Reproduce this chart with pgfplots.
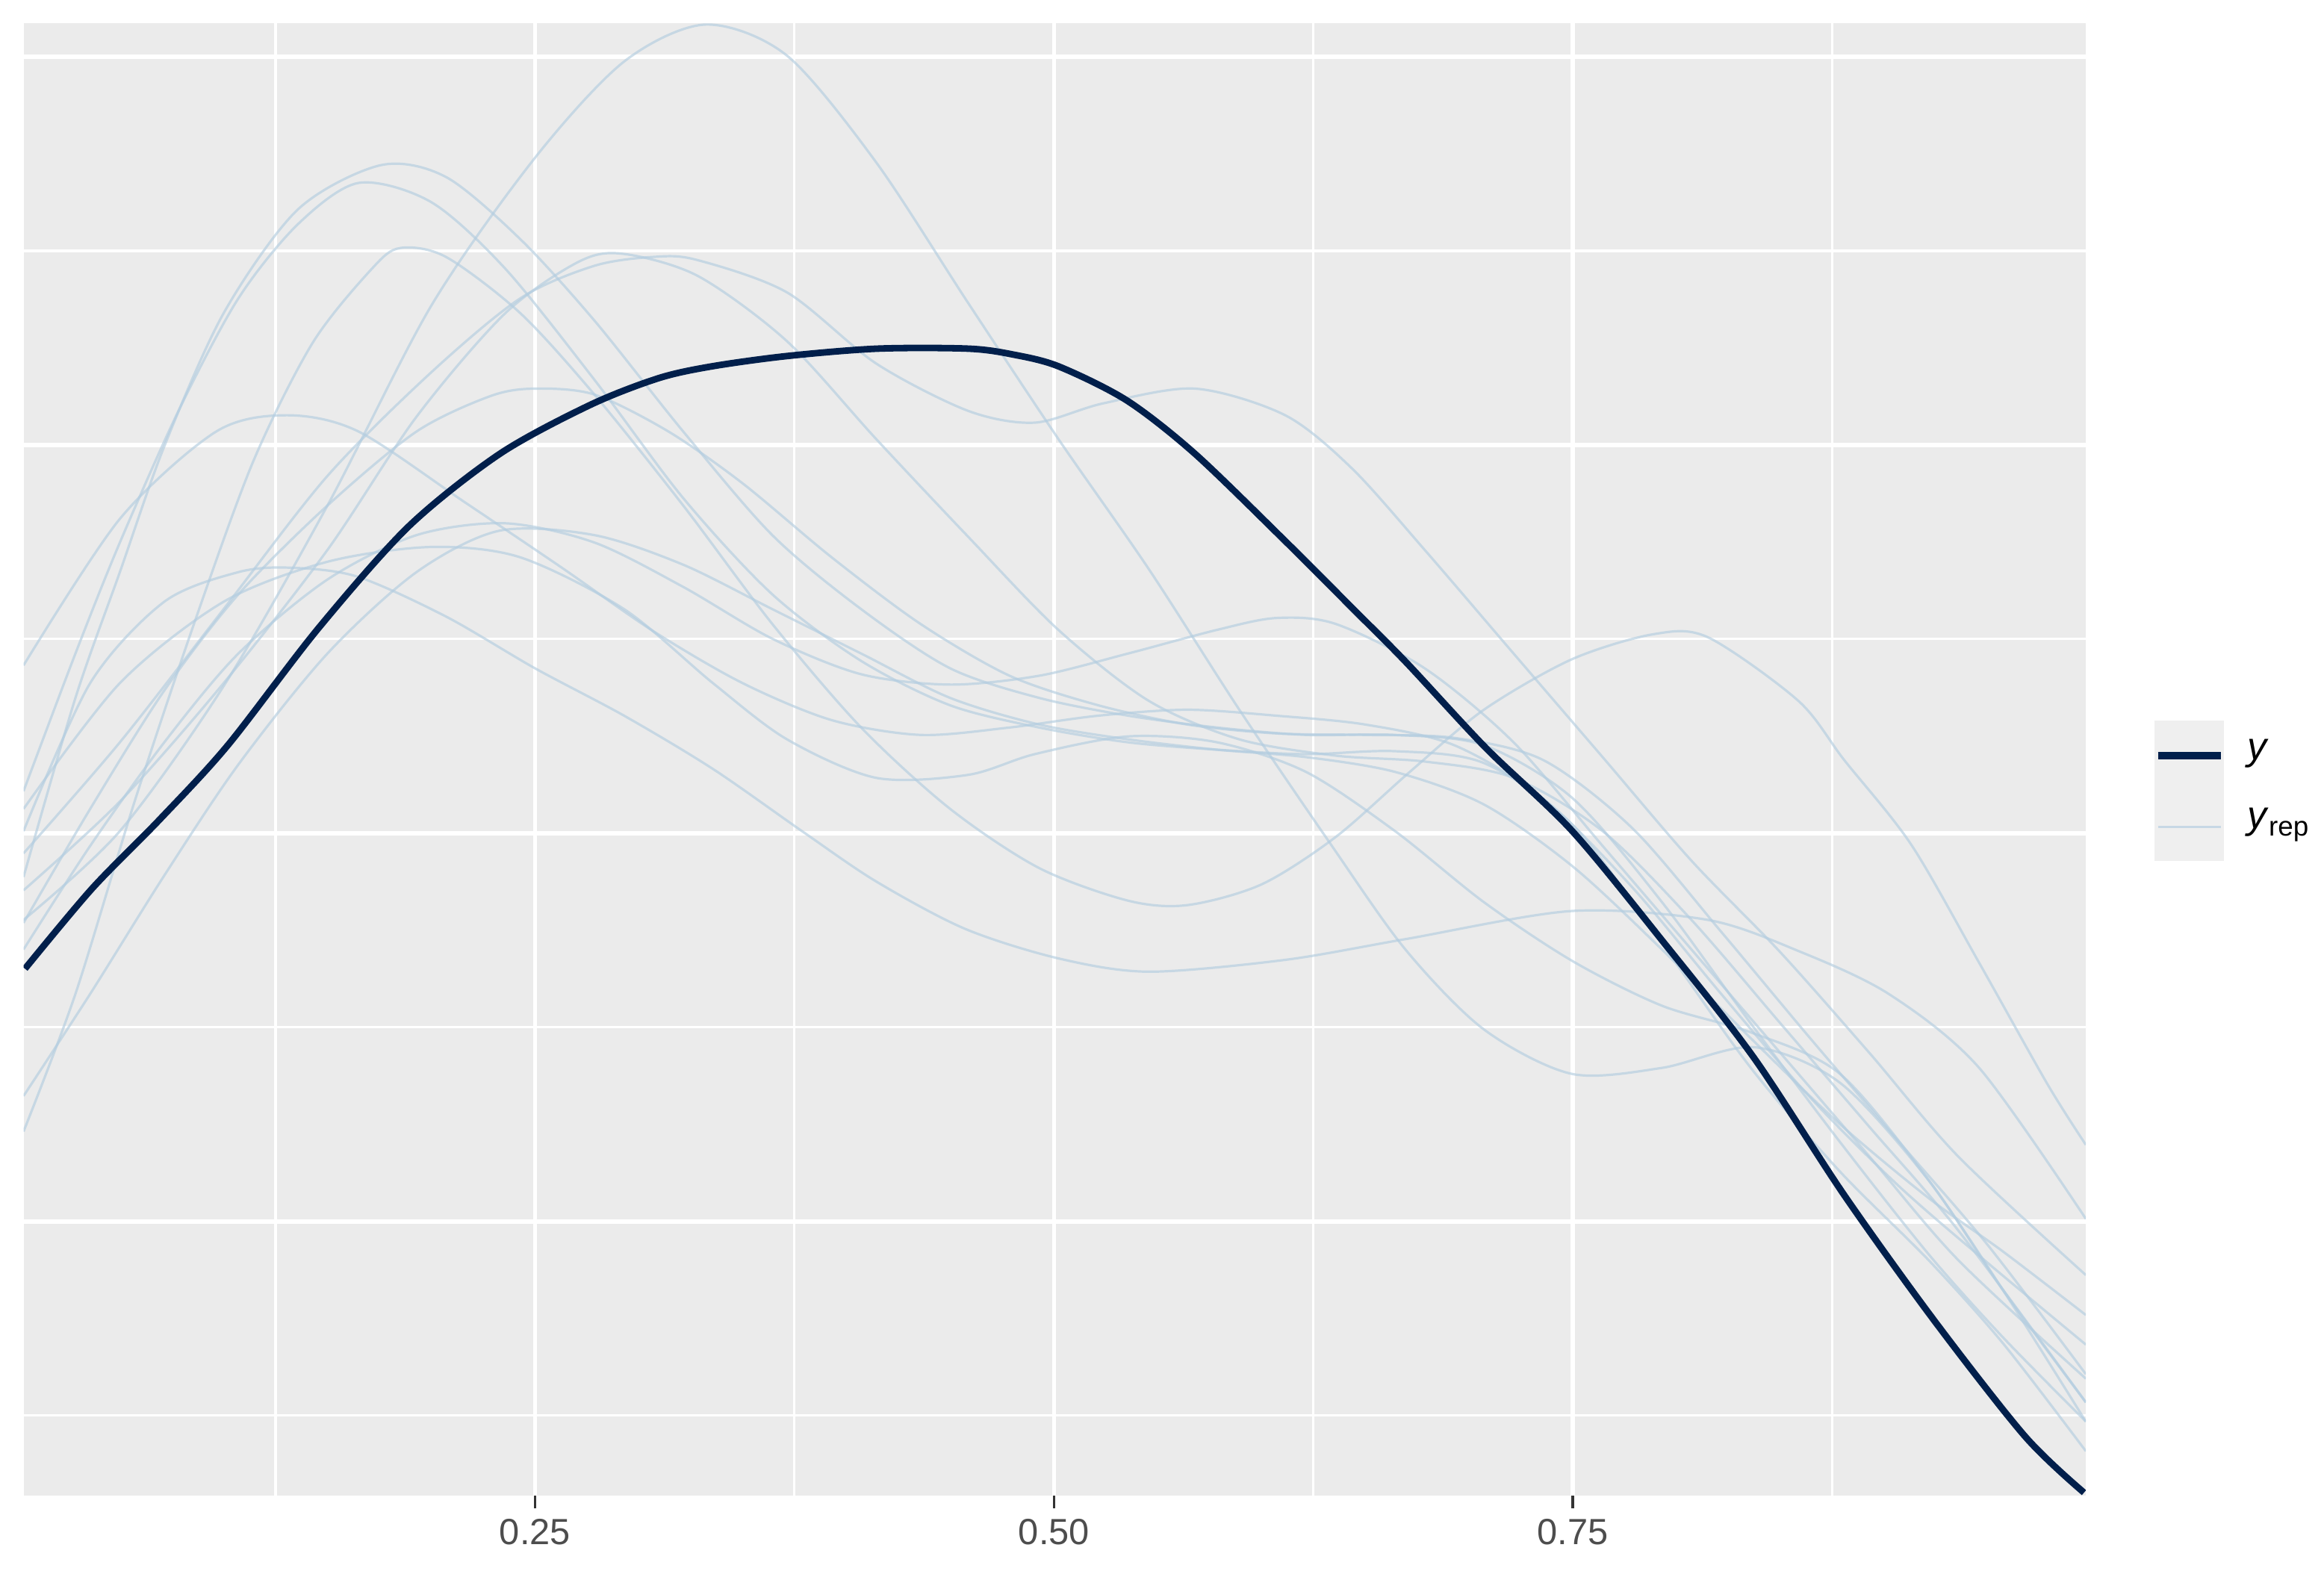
\documentclass[border=0pt]{standalone}
\usepackage{fontspec}
\setmainfont{Liberation Sans}
\usepackage{pgfplots}
\pgfplotsset{compat=1.18}
\definecolor{panel}{HTML}{EBEBEB}
\definecolor{ydark}{HTML}{011F4B}
\definecolor{yrepc}{HTML}{B3CDE0}
\definecolor{ticklab}{HTML}{4D4D4D}
\definecolor{tickc}{HTML}{333333}
\definecolor{keybg}{HTML}{EFEFEF}
\begin{document}
\begin{tikzpicture}
\path[use as bounding box] (0,0) rectangle (389pt,264pt);
\begin{axis}[
  at={(3.94pt,13.625pt)}, anchor=south west,
  scale only axis, width=345.2pt, height=246.5pt,
  xmin=0.0036, xmax=0.9971, ymin=77, ymax=1072,
  axis background/.style={fill=panel},
  axis line style={draw=none},
  xtick={0.25,0.5,0.75}, xticklabels={0.25,0.50,0.75},
  minor xtick={0.125,0.375,0.625,0.875},
  ytick={262.3,524.6,786.9,1049.2}, yticklabels={},
  minor ytick={131.2,393.5,655.8,918.1},
  grid=both,
  major grid style={white, line width=0.7pt},
  minor grid style={white, line width=0.4pt},
  xtick pos=left, tick align=outside,
  major tick length=2.1pt, minor tick length=0pt,
  y tick style={draw=none},
  x tick style={tickc, line width=0.45pt},
  minor tick style={draw=none},
  xticklabel style={font=\fontsize{6.1}{7}\selectfont, text=ticklab, inner sep=0pt, yshift=-1.6pt},
  clip=true,
  rep/.style={yrepc, opacity=0.65, line width=0.4pt, smooth, tension=0.5},
]
% y_rep draws
\addplot[rep] coordinates {(0.0036,466)(0.05,526)(0.1,624)(0.15,746)(0.2,881)(0.25,981)(0.2929,1046)(0.3321,1071)(0.3714,1050)(0.4143,978)(0.4586,883)(0.5021,791)(0.5457,703)(0.5893,608)(0.6329,518)(0.6693,446)(0.7071,392)(0.7493,362)(0.7929,366)(0.8371,380)(0.8786,356)(0.9214,290)(0.9571,216)(0.9971,140)};
\addplot[rep] coordinates {(0.0036,495)(0.0286,616)(0.05,701)(0.0714,786)(0.1,876)(0.1357,946)(0.1757,976)(0.2071,968)(0.2429,926)(0.2786,871)(0.3214,796)(0.3643,726)(0.4071,676)(0.45,636)(0.4929,616)(0.5357,604)(0.5786,596)(0.6214,591)(0.6643,591)(0.7071,584)(0.75,548)(0.7929,478)(0.8357,396)(0.8786,316)(0.9214,240)(0.9571,184)(0.9971,127)};
\addplot[rep] coordinates {(0.0036,553)(0.0286,646)(0.05,721)(0.0786,811)(0.1071,886)(0.1357,936)(0.165,964)(0.2,951)(0.2357,906)(0.2786,831)(0.3214,751)(0.3643,686)(0.4071,641)(0.45,611)(0.4929,596)(0.5357,586)(0.5786,581)(0.6214,578)(0.6643,580)(0.7071,572)(0.75,530)(0.7929,450)(0.8357,366)(0.8786,296)(0.9214,236)(0.9571,180)(0.9971,107)};
\addplot[rep] coordinates {(0.0036,323)(0.0286,416)(0.0571,546)(0.0857,666)(0.1143,776)(0.1429,856)(0.1714,906)(0.185,920)(0.2071,914)(0.2429,876)(0.2786,821)(0.3214,746)(0.3643,666)(0.4071,596)(0.45,541)(0.4929,501)(0.5357,479)(0.5643,476)(0.6,490)(0.6357,522)(0.6714,566)(0.7071,608)(0.7493,642)(0.7886,659)(0.815,657)(0.8586,614)(0.8807,574)(0.9129,517)(0.9457,437)(0.9786,355)(0.9971,314)};
\addplot[rep] coordinates {(0.0036,638)(0.05,737)(0.0964,796)(0.1307,807)(0.165,796)(0.2164,748)(0.2629,704)(0.3071,661)(0.35,626)(0.3929,601)(0.4357,591)(0.4786,596)(0.5214,604)(0.5643,608)(0.6071,604)(0.65,598)(0.6929,584)(0.7357,548)(0.7786,488)(0.8214,416)(0.8643,346)(0.9071,286)(0.95,234)(0.9971,179)};
\addplot[rep] coordinates {(0.0036,464)(0.0357,541)(0.0714,621)(0.1071,686)(0.15,746)(0.1929,796)(0.2286,820)(0.25,825)(0.2786,821)(0.3143,796)(0.35,761)(0.3929,711)(0.4357,666)(0.4786,631)(0.5214,611)(0.5643,598)(0.6071,592)(0.65,591)(0.6929,589)(0.7357,574)(0.7786,528)(0.8214,458)(0.8643,386)(0.9071,316)(0.95,246)(0.9971,159)};
\addplot[rep] coordinates {(0.0036,347)(0.0357,416)(0.0714,496)(0.1071,571)(0.15,646)(0.1929,701)(0.2329,729)(0.2786,726)(0.3214,706)(0.3643,676)(0.4071,646)(0.45,616)(0.4929,598)(0.5357,588)(0.5786,581)(0.6214,576)(0.6643,566)(0.7071,544)(0.75,502)(0.7929,446)(0.8357,386)(0.8786,328)(0.9214,278)(0.9571,242)(0.9971,199)};
\addplot[rep] coordinates {(0.0036,526)(0.0357,626)(0.0714,681)(0.1071,701)(0.1321,704)(0.1643,698)(0.2071,671)(0.25,636)(0.2929,604)(0.3357,568)(0.3786,526)(0.4143,492)(0.4571,460)(0.5021,440)(0.5457,431)(0.6114,439)(0.6693,453)(0.7493,472)(0.815,466)(0.8586,445)(0.9021,416)(0.9457,366)(0.9971,264)};
\addplot[rep] coordinates {(0.0036,486)(0.05,546)(0.1,626)(0.15,716)(0.1929,806)(0.2357,876)(0.2714,911)(0.2929,916)(0.3286,901)(0.3714,857)(0.4143,791)(0.4586,725)(0.5021,662)(0.5457,614)(0.5893,588)(0.6357,577)(0.6786,573)(0.7214,562)(0.7643,526)(0.8071,466)(0.85,396)(0.8929,326)(0.9357,256)(0.9971,140)};
\addplot[rep] coordinates {(0.0036,511)(0.05,586)(0.1,676)(0.15,766)(0.2,836)(0.2429,886)(0.2786,908)(0.3071,914)(0.3279,912)(0.3714,890)(0.4143,842)(0.4586,810)(0.4907,802)(0.5236,815)(0.5679,825)(0.6114,807)(0.6436,771)(0.6786,716)(0.7214,646)(0.7643,576)(0.8071,506)(0.85,444)(0.8929,376)(0.9357,306)(0.9971,226)};
\addplot[rep] coordinates {(0.0036,541)(0.05,626)(0.1,681)(0.15,708)(0.2,718)(0.2429,711)(0.2929,676)(0.3357,626)(0.3714,588)(0.4143,562)(0.4586,564)(0.4907,578)(0.5357,590)(0.5786,586)(0.6214,566)(0.6643,526)(0.7071,478)(0.75,438)(0.7929,408)(0.8357,390)(0.8786,362)(0.9214,290)(0.9571,216)(0.9971,127)};
\addplot[rep] coordinates {(0.0036,446)(0.0357,516)(0.0714,586)(0.1071,646)(0.15,696)(0.1929,726)(0.2357,734)(0.2786,721)(0.3214,691)(0.3643,656)(0.4071,632)(0.45,625)(0.4929,631)(0.5357,646)(0.5786,662)(0.6071,670)(0.6357,666)(0.6786,636)(0.7214,586)(0.7643,516)(0.8071,446)(0.85,376)(0.8929,306)(0.9357,236)(0.9971,156)};
% observed y
\addplot[ydark, line width=1.1pt, smooth, tension=0.5] coordinates {(0.0043,433)(0.0365,487)(0.0693,534)(0.102,584)(0.1456,663)(0.1892,732)(0.2331,781)(0.2766,814)(0.3094,832)(0.335,840)(0.3713,847)(0.4149,852)(0.4588,852)(0.4804,848)(0.5023,840)(0.5351,817)(0.5679,781)(0.6114,722)(0.6442,676)(0.6697,640)(0.7082,582)(0.7497,526)(0.7936,451)(0.8371,373)(0.8807,280)(0.9242,195)(0.9678,117)(0.9962,79)};
\end{axis}
% legend
\fill[keybg] (360.6pt,119.9pt) rectangle (372.25pt,143.4pt);
\draw[ydark, line width=1.2pt] (361.2pt,137.5pt) -- (371.7pt,137.5pt);
\draw[yrepc, opacity=0.65, line width=0.4pt] (361.2pt,125.6pt) -- (371.7pt,125.6pt);
\node[anchor=west, inner sep=0pt, font=\fontsize{6.5}{7}\selectfont] at (376pt,137.8pt) {\textit{y}};
\node[anchor=west, inner sep=0pt, font=\fontsize{6.5}{7}\selectfont] at (376pt,125.9pt) {\textit{y}\raisebox{-0.35ex}{\fontsize{4.6}{5}\selectfont rep}};
\end{tikzpicture}
\end{document}
